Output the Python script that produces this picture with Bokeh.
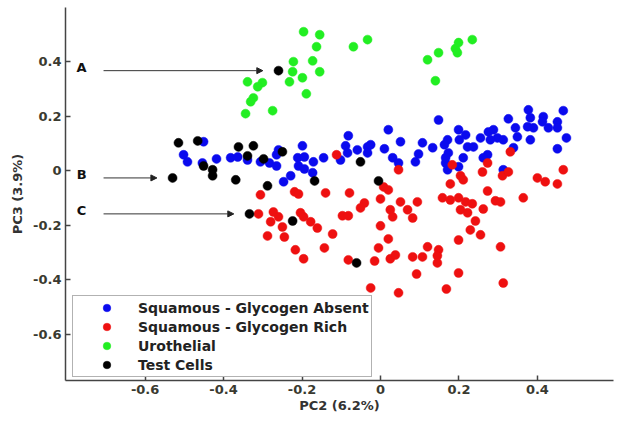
from bokeh.plotting import figure
from bokeh.models import (ColumnDataSource, Range1d, FixedTicker, Legend, LegendItem,
                          Arrow, NormalHead, Label)
from bokeh.embed import file_html
from bokeh.resources import INLINE

# ---------------- data (PC2, PC3 scores) ----------------
absent_x = [-0.451, -0.502, -0.492, -0.454, -0.418, -0.382, -0.364, -0.339, -0.306, -0.283,
            -0.265, -0.260, -0.265, -0.199, -0.211, -0.194, -0.209, -0.194, -0.171, -0.145,
            -0.229, -0.247, -0.173, -0.082, -0.089, -0.059, -0.102, -0.084, -0.033, -0.033,
            -0.025, 0.020, 0.010, 0.051, 0.031, 0.046, 0.089, 0.097, 0.107, 0.133,
            0.148, 0.171, 0.163, 0.173, 0.166, 0.171, 0.199, 0.217, 0.201, 0.222,
            0.237, 0.211, 0.255, 0.275, 0.288, 0.298, 0.280, 0.313, 0.326, 0.344,
            0.349, 0.273, 0.262, 0.339, 0.377, 0.382, 0.375, 0.390, 0.382, 0.415,
            0.413, 0.428, 0.451, 0.451, 0.466, 0.474, 0.451, 0.313, 0.199, 0.166]
absent_y = [0.107, 0.059, 0.033, 0.029, 0.044, 0.048, 0.051, 0.040, 0.033, 0.029,
            0.018, 0.077, 0.059, 0.092, 0.048, 0.051, 0.018, 0.007, 0.033, 0.048,
            -0.018, -0.040, -0.007, 0.129, 0.092, 0.077, 0.040, 0.066, 0.088, 0.066,
            0.096, 0.151, 0.081, 0.107, 0.048, 0.029, 0.033, 0.062, 0.103, 0.085,
            0.187, 0.114, 0.096, 0.066, 0.029, 0.004, 0.151, 0.132, 0.114, 0.088,
            0.088, 0.048, 0.121, 0.143, 0.151, 0.121, 0.114, 0.114, 0.191, 0.158,
            0.125, 0.059, 0.048, 0.085, 0.224, 0.195, 0.162, 0.158, 0.114, 0.199,
            0.180, 0.158, 0.180, 0.158, 0.221, 0.121, 0.081, 0.004, 0.015, 0.048]

rich_x = [-0.112, -0.306, -0.219, -0.209, -0.140, -0.079, -0.041, 0.331, 0.183, 0.273,
          0.046, 0.008, 0.020, 0.178, 0.204, 0.211, 0.260, 0.311, 0.326, 0.466,
          0.400, 0.420, 0.451, 0.273, 0.364, 0.000, 0.051, 0.094, 0.158, 0.178,
          0.199, 0.217, 0.234, 0.204, 0.222, 0.262, 0.293, 0.306, 0.025, 0.031,
          0.069, 0.082, 0.242, 0.229, 0.255, 0.000, 0.020, 0.199, 0.306, -0.005,
          0.120, 0.148, 0.145, 0.145, -0.015, 0.025, 0.038, 0.082, 0.107, 0.092,
          0.199, 0.313, -0.025, 0.046, 0.168, -0.051, -0.311, -0.273, -0.260, -0.280,
          -0.250, -0.204, -0.196, -0.178, -0.161, -0.288, -0.245, -0.122, -0.217, -0.143,
          -0.196, -0.082, -0.097, -0.082]
rich_y = [0.059, -0.088, -0.077, -0.085, -0.081, -0.081, -0.118, 0.070, 0.022, 0.029,
          0.004, -0.059, -0.070, -0.048, -0.018, -0.033, -0.004, -0.018, -0.004, 0.004,
          -0.026, -0.040, -0.048, -0.074, -0.099, -0.103, -0.114, -0.114, -0.099, -0.107,
          -0.099, -0.114, -0.121, -0.143, -0.154, -0.140, -0.110, -0.114, -0.143, -0.169,
          -0.143, -0.173, -0.184, -0.217, -0.235, -0.202, -0.250, -0.254, -0.279, -0.283,
          -0.279, -0.290, -0.312, -0.338, -0.331, -0.323, -0.309, -0.316, -0.316, -0.379,
          -0.375, -0.412, -0.430, -0.448, -0.434, -0.136, -0.158, -0.151, -0.169, -0.187,
          -0.206, -0.154, -0.169, -0.187, -0.210, -0.239, -0.243, -0.232, -0.290, -0.283,
          -0.323, -0.327, -0.165, -0.165]

uro_x = [-0.196, -0.155, -0.163, -0.069, -0.033, -0.222, -0.173, -0.224, -0.155, -0.199,
         -0.232, -0.339, -0.301, -0.313, -0.189, -0.324, -0.331, -0.344, -0.275, 0.120,
         0.148, 0.191, 0.199, 0.234, 0.140, 0.196]
uro_y = [0.511, 0.500, 0.456, 0.456, 0.482, 0.401, 0.404, 0.364, 0.364, 0.342,
         0.327, 0.327, 0.324, 0.309, 0.283, 0.268, 0.254, 0.210, 0.221, 0.408,
         0.434, 0.449, 0.471, 0.482, 0.331, 0.434]

# first three test cells are the annotated ones: A, B, C
test_x = [-0.260, -0.530, -0.334, -0.515, -0.466, -0.362, -0.324, -0.339, -0.298, -0.250,
          -0.451, -0.428, -0.428, -0.369, -0.288, -0.168, -0.051, -0.005, -0.224, -0.061]
test_y = [0.368, -0.026, -0.158, 0.103, 0.110, 0.088, 0.092, 0.055, 0.044, 0.070,
          0.018, 0.004, -0.018, -0.033, -0.055, -0.037, 0.033, -0.037, -0.184, -0.338]
test_labels = ["A", "B", "C"]

series_names = ["Squamous - Glycogen Absent", "Squamous - Glycogen Rich", "Urothelial", "Test Cells"]
series_colors = ["#0a0aee", "#ee1010", "#22ee22", "#000000"]

x_ticks = [-0.6, -0.4, -0.2, 0, 0.2, 0.4]
x_tick_labels = ["-0.6", "-0.4", "-0.2", "0", "0.2", "0.4"]
y_ticks = [-0.6, -0.4, -0.2, 0, 0.2, 0.4]
y_tick_labels = ["-0.6", "-0.4", "-0.2", "0", "0.2", "0.4"]

# ---------------- figure ----------------
FONT = "DejaVu Sans"
p = figure(width=620, height=415, output_backend="svg", toolbar_location=None,
           x_range=Range1d(-0.803, 0.594), y_range=Range1d(-0.77, 0.60),
           min_border_left=65, min_border_right=7, min_border_top=7, min_border_bottom=34)
p.outline_line_color = None
p.grid.visible = False
p.background_fill_color = "white"

for ax, ticks, labels, lab in ((p.xaxis[0], x_ticks, x_tick_labels, "PC2 (6.2%)"),
                               (p.yaxis[0], y_ticks, y_tick_labels, "PC3 (3.9%)")):
    ax.ticker = FixedTicker(ticks=ticks)
    ax.major_label_overrides = {t: s for t, s in zip(ticks, labels)}
    ax.axis_label = lab
    ax.axis_label_text_font = FONT
    ax.axis_label_text_font_style = "bold"
    ax.axis_label_text_font_size = "13px"
    ax.axis_label_text_color = "#333333"
    ax.major_label_text_font = FONT
    ax.major_label_text_font_style = "bold"
    ax.major_label_text_font_size = "13px"
    ax.major_label_text_color = "#3a3a30"
    ax.axis_line_color = "#444444"
    ax.axis_line_width = 1.5
    ax.major_tick_line_color = "#444444"
    ax.major_tick_line_width = 1.5
    ax.major_tick_in = 5
    ax.major_tick_out = 0
    ax.minor_tick_line_color = None
p.xaxis.major_label_standoff = 4
p.xaxis.axis_label_standoff = 1
p.yaxis.major_label_standoff = 4
p.yaxis.axis_label_standoff = 5

series = [(absent_x, absent_y), (rich_x, rich_y), (uro_x, uro_y), (test_x, test_y)]
renderers = []
for (xs, ys), color in zip(series, series_colors):
    src = ColumnDataSource(dict(x=xs, y=ys))
    r = p.scatter("x", "y", source=src, size=9, fill_color=color, line_color=color,
                  line_width=0.5)
    renderers.append(r)

# annotation arrows pointing at the labelled test cells
arrow_start = -0.706
gap = 0.04
for i, lab in enumerate(test_labels):
    px, py = test_x[i], test_y[i]
    p.add_layout(Arrow(end=NormalHead(size=6, fill_color="#222222", line_color="#222222"),
                       x_start=arrow_start, y_start=py, x_end=px - gap, y_end=py,
                       line_color="#333333", line_width=1))
    p.add_layout(Label(x=-0.762, y=py + 0.012, text=lab, text_align="center",
                       text_baseline="middle", text_font=FONT, text_font_style="bold",
                       text_font_size="13px", text_color="#111111"))

legend = Legend(items=[LegendItem(label=n, renderers=[r]) for n, r in zip(series_names, renderers)],
                location=(7, 3), padding=2, spacing=0, margin=0,
                glyph_width=63, glyph_height=19, label_height=19, label_standoff=0,
                label_text_font=FONT, label_text_font_style="bold", label_text_font_size="14px",
                label_text_color="#222222", border_line_color="#666666", border_line_width=1.5,
                background_fill_color="white", background_fill_alpha=1.0)
p.add_layout(legend)

open("out.html", "w").write(file_html(p, INLINE))
